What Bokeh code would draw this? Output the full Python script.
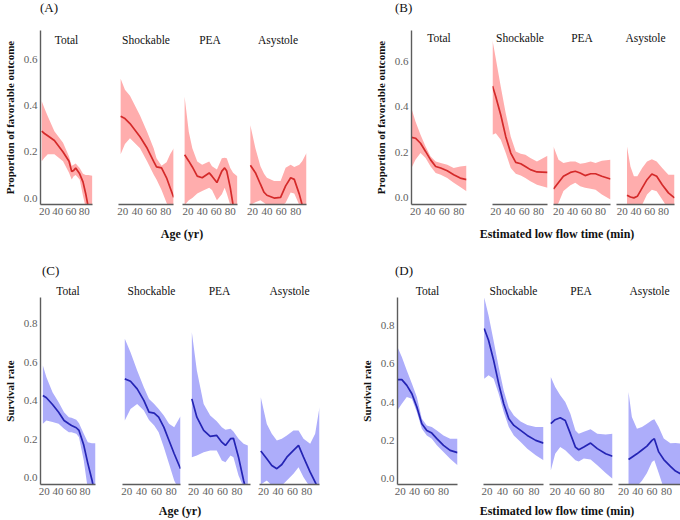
from bokeh.plotting import figure
from bokeh.models import Label, FixedTicker, PrintfTickFormatter, Div, Spacer
from bokeh.layouts import row, column
from bokeh.embed import file_html
from bokeh.resources import INLINE

# ---- fitted curves with 95% bands ----
# (A) favorable outcome by age
a_total_x = [16, 20, 25, 35, 48, 57, 61, 64, 67, 73, 78, 82, 86, 92]
a_total_fit = [0.29, 0.28, 0.27, 0.25, 0.20, 0.16, 0.115, 0.12, 0.13, 0.105, 0.07, 0.02, -0.04, -0.10]
a_total_lo = [0.16, 0.175, 0.19, 0.19, 0.16, 0.11, 0.08, 0.095, 0.10, 0.08, 0.01, -0.04, -0.08, -0.15]
a_total_hi = [0.42, 0.39, 0.355, 0.29, 0.24, 0.18, 0.14, 0.145, 0.15, 0.13, 0.105, 0.10, 0.10, 0.097]

a_shock_x = [17, 23, 30, 44, 54, 63, 67, 74, 81, 86, 91]
a_shock_fit = [0.355, 0.345, 0.323, 0.266, 0.216, 0.159, 0.135, 0.131, 0.088, 0.045, 0.003]
a_shock_lo = [0.19, 0.235, 0.259, 0.216, 0.159, 0.102, 0.081, 0.035, -0.02, -0.06, -0.10]
a_shock_hi = [0.518, 0.47, 0.444, 0.358, 0.287, 0.216, 0.173, 0.14, 0.155, 0.19, 0.216]

a_pea_x = [15, 21, 26, 33, 40, 50, 54, 61, 68, 72, 75, 80, 84, 90]
a_pea_fit = [0.188, 0.16, 0.135, 0.095, 0.088, 0.109, 0.095, 0.067, 0.117, 0.131, 0.117, 0.045, -0.03, -0.15]
a_pea_lo = [-0.03, -0.01, 0.0, 0.02, 0.031, 0.045, 0.035, -0.01, 0.017, 0.045, 0.02, -0.03, -0.06, -0.15]
a_pea_hi = [0.44, 0.287, 0.216, 0.159, 0.145, 0.159, 0.138, 0.124, 0.173, 0.175, 0.173, 0.13, 0.11, 0.095]

a_asys_x = [17, 24, 31, 36, 40, 50, 59, 66, 73, 78, 85, 89, 95]
a_asys_fit = [0.142, 0.11, 0.06, 0.025, 0.012, 0.0, 0.003, 0.053, 0.088, 0.081, 0.017, -0.03, -0.10]
a_asys_lo = [-0.03, -0.018, -0.01, -0.02, -0.03, -0.05, -0.04, -0.02, 0.024, 0.02, -0.03, -0.06, -0.10]
a_asys_hi = [0.316, 0.216, 0.138, 0.105, 0.088, 0.074, 0.074, 0.131, 0.145, 0.135, 0.145, 0.16, 0.195]

# (B) favorable outcome by estimated low flow time
b_total_x = [14.5, 20, 27, 34, 41, 48, 55, 64, 73, 82, 90.7]
b_total_fit = [0.266, 0.262, 0.240, 0.204, 0.167, 0.138, 0.131, 0.119, 0.102, 0.087, 0.080]
b_total_lo = [0.131, 0.167, 0.197, 0.175, 0.138, 0.109, 0.102, 0.087, 0.066, 0.048, 0.029]
b_total_hi = [0.393, 0.335, 0.277, 0.226, 0.182, 0.160, 0.153, 0.146, 0.131, 0.138, 0.141]

b_shock_x = [15.4, 20, 27, 34, 41, 48, 55, 61.5, 68.5, 77.7, 92.5]
b_shock_fit = [0.491, 0.444, 0.364, 0.269, 0.197, 0.156, 0.150, 0.138, 0.124, 0.114, 0.112]
b_shock_lo = [0.277, 0.284, 0.255, 0.197, 0.131, 0.106, 0.098, 0.087, 0.073, 0.058, 0.044]
b_shock_hi = [0.692, 0.612, 0.488, 0.371, 0.269, 0.204, 0.194, 0.189, 0.175, 0.160, 0.185]

b_pea_x = [12.8, 20, 27, 37, 44, 51, 58, 66, 73, 82, 94.4]
b_pea_fit = [0.039, 0.068, 0.095, 0.112, 0.117, 0.109, 0.098, 0.106, 0.106, 0.095, 0.083]
b_pea_lo = [-0.05, -0.022, 0.03, 0.055, 0.066, 0.051, 0.044, 0.04, 0.036, 0.015, -0.007]
b_pea_hi = [0.226, 0.167, 0.153, 0.160, 0.160, 0.150, 0.153, 0.160, 0.153, 0.163, 0.167]

b_asys_x = [27, 32, 37, 42, 49, 56, 63, 70, 78, 87, 95.8]
b_asys_fit = [0.012, 0.004, 0.0, 0.007, 0.044, 0.080, 0.105, 0.095, 0.058, 0.022, 0.0]
b_asys_lo = [-0.03, -0.05, -0.06, -0.05, -0.03, 0.015, 0.036, 0.029, -0.007, -0.05, -0.08]
b_asys_hi = [0.226, 0.138, 0.095, 0.095, 0.131, 0.160, 0.170, 0.160, 0.131, 0.102, 0.102]

# (C) survival by age
c_total_x = [17.8, 23, 32, 41, 49, 56, 60, 67, 71, 78, 84, 90, 95.3]
c_total_fit = [0.428, 0.416, 0.381, 0.341, 0.298, 0.281, 0.272, 0.260, 0.246, 0.17, 0.075, -0.01, -0.1]
c_total_lo = [0.281, 0.298, 0.29, 0.281, 0.255, 0.237, 0.237, 0.229, 0.211, 0.09, -0.06, -0.15, -0.25]
c_total_hi = [0.584, 0.523, 0.445, 0.393, 0.341, 0.315, 0.312, 0.301, 0.284, 0.229, 0.185, 0.18, 0.18]

c_shock_x = [17.3, 25, 34, 43, 50, 57, 63, 70, 77, 84, 92.5]
c_shock_fit = [0.514, 0.502, 0.462, 0.402, 0.341, 0.336, 0.315, 0.263, 0.194, 0.125, 0.047]
c_shock_lo = [0.298, 0.358, 0.384, 0.35, 0.30, 0.272, 0.237, 0.159, 0.073, -0.014, -0.08]
c_shock_hi = [0.722, 0.653, 0.558, 0.471, 0.410, 0.384, 0.358, 0.324, 0.281, 0.263, 0.32]

c_pea_x = [17.7, 24.6, 34, 43, 52, 59, 64, 71, 75, 82, 89, 94.8]
c_pea_fit = [0.410, 0.315, 0.246, 0.215, 0.220, 0.185, 0.168, 0.203, 0.205, 0.107, -0.014, -0.1]
c_pea_lo = [0.107, 0.116, 0.133, 0.142, 0.142, 0.090, 0.081, 0.116, 0.107, 0.012, -0.05, -0.1]
c_pea_hi = [0.757, 0.558, 0.384, 0.324, 0.294, 0.263, 0.25, 0.255, 0.24, 0.203, 0.177, 0.168]

c_asys_x = [16.3, 24.6, 31.5, 38.5, 45.4, 52.3, 61.5, 68.5, 75.4, 84.6, 91.5, 97.5]
c_asys_fit = [0.139, 0.099, 0.064, 0.047, 0.069, 0.107, 0.142, 0.168, 0.107, 0.029, -0.023, -0.07]
c_asys_lo = [-0.035, -0.014, -0.04, -0.05, -0.04, -0.014, 0.021, 0.055, 0.003, -0.05, -0.08, -0.1]
c_asys_hi = [0.419, 0.28, 0.229, 0.194, 0.203, 0.220, 0.246, 0.246, 0.203, 0.177, 0.229, 0.367]

# (D) survival by estimated low flow time
d_total_x = [16.3, 22.3, 29.2, 36.2, 43.1, 50, 56.9, 63.8, 70.8, 80, 89.2, 99.4]
d_total_fit = [0.517, 0.517, 0.487, 0.443, 0.374, 0.287, 0.252, 0.238, 0.209, 0.174, 0.148, 0.136]
d_total_lo = [0.357, 0.391, 0.426, 0.417, 0.348, 0.261, 0.226, 0.209, 0.174, 0.139, 0.104, 0.070]
d_total_hi = [0.687, 0.635, 0.565, 0.496, 0.426, 0.313, 0.278, 0.270, 0.252, 0.226, 0.209, 0.209]

d_shock_x = [16.6, 22.1, 28.6, 35, 41.4, 47.9, 54.3, 62.9, 71.4, 82.1, 92]
d_shock_fit = [0.783, 0.722, 0.617, 0.496, 0.391, 0.313, 0.278, 0.252, 0.226, 0.2, 0.186]
d_shock_lo = [0.522, 0.539, 0.522, 0.443, 0.348, 0.270, 0.226, 0.191, 0.157, 0.122, 0.096]
d_shock_hi = [0.945, 0.853, 0.718, 0.583, 0.46, 0.37, 0.33, 0.298, 0.28, 0.27, 0.27]

d_pea_x = [14, 20, 26.9, 33.8, 40.8, 47.7, 52.3, 59.2, 68.5, 77.7, 89.2, 98.5]
d_pea_fit = [0.287, 0.308, 0.318, 0.304, 0.235, 0.165, 0.151, 0.165, 0.186, 0.157, 0.130, 0.117]
d_pea_lo = [0.043, 0.130, 0.165, 0.148, 0.122, 0.096, 0.09, 0.105, 0.1, 0.07, 0.03, 0.0]
d_pea_hi = [0.530, 0.478, 0.435, 0.40, 0.339, 0.252, 0.235, 0.245, 0.258, 0.235, 0.231, 0.235]

d_asys_x = [27, 31.7, 38.8, 45.8, 52.8, 59.8, 63.1, 69.2, 76.3, 85.6, 92.7, 99.7]
d_asys_fit = [0.10, 0.112, 0.13, 0.15, 0.17, 0.20, 0.209, 0.14, 0.10, 0.065, 0.04, 0.026]
d_asys_lo = [-0.05, -0.05, -0.04, -0.01, 0.03, 0.087, 0.096, 0.03, -0.05, -0.08, -0.1, -0.12]
d_asys_hi = [0.452, 0.322, 0.261, 0.27, 0.287, 0.305, 0.31, 0.27, 0.21, 0.185, 0.186, 0.183]

groups = ["Total", "Shockable", "PEA", "Asystole"]
x_ticks = [20, 40, 60, 80]

FONT = "Liberation Serif"
RED = ("#d42a2a", "#ffadad")
BLUE = ("#2424b4", "#adadfa")

# strip_y: strip text sits inside the frame (A, B); None: above it as a title (C, D)
panels = [
    dict(series=[(a_total_x, a_total_fit, a_total_lo, a_total_hi),
                 (a_shock_x, a_shock_fit, a_shock_lo, a_shock_hi),
                 (a_pea_x, a_pea_fit, a_pea_lo, a_pea_hi),
                 (a_asys_x, a_asys_fit, a_asys_lo, a_asys_hi)],
         colors=RED, y_range=(-0.028, 0.727),
         y_ticks=[0, 0.2, 0.4, 0.6], y_label="Proportion of favorable outcome",
         strip_y=0.685, frame_tb=(27, 204),
         frames=[(35, 92), (118, 173), (182, 237), (249, 306)],
         x_ranges=[(14.1, 92.3), (14.0, 90.7), (12.0, 90.3), (15.8, 95.0)]),
    dict(series=[(b_total_x, b_total_fit, b_total_lo, b_total_hi),
                 (b_shock_x, b_shock_fit, b_shock_lo, b_shock_hi),
                 (b_pea_x, b_pea_fit, b_pea_lo, b_pea_hi),
                 (b_asys_x, b_asys_fit, b_asys_lo, b_asys_hi)],
         colors=RED, y_range=(-0.029, 0.735),
         y_ticks=[0, 0.2, 0.4, 0.6], y_label="Proportion of favorable outcome",
         strip_y=0.702, frame_tb=(30, 205),
         frames=[(411, 466), (492, 547), (553, 610), (616, 674)],
         x_ranges=[(14.5, 90.7), (15.4, 92.5), (12.8, 94.4), (11.8, 95.8)]),
    dict(series=[(c_total_x, c_total_fit, c_total_lo, c_total_hi),
                 (c_shock_x, c_shock_fit, c_shock_lo, c_shock_hi),
                 (c_pea_x, c_pea_fit, c_pea_lo, c_pea_hi),
                 (c_asys_x, c_asys_fit, c_asys_lo, c_asys_hi)],
         colors=BLUE, y_range=(-0.035, 0.937),
         y_ticks=[0, 0.2, 0.4, 0.6, 0.8], y_label="Survival rate",
         strip_y=None, frame_tb=(297, 484),
         frames=[(33, 95), (122, 180), (188, 250), (259, 319)],
         x_ranges=[(14.3, 95.3), (14.2, 92.5), (13.1, 98.5), (14.5, 97.5)]),
    dict(series=[(d_total_x, d_total_fit, d_total_lo, d_total_hi),
                 (d_shock_x, d_shock_fit, d_shock_lo, d_shock_hi),
                 (d_pea_x, d_pea_fit, d_pea_lo, d_pea_hi),
                 (d_asys_x, d_asys_fit, d_asys_lo, d_asys_hi)],
         colors=BLUE, y_range=(-0.030, 0.945),
         y_ticks=[0, 0.2, 0.4, 0.6, 0.8], y_label="Survival rate",
         strip_y=None, frame_tb=(297, 484),
         frames=[(397, 457), (483, 543), (549, 612), (618, 680)],
         x_ranges=[(16.3, 99.4), (15.7, 92.0), (12.2, 98.5), (13.0, 99.7)]),
]


def style_axis(ax):
    ax.axis_line_color = "#5c5c5c"
    ax.axis_line_width = 1.4
    ax.major_tick_line_color = None
    ax.minor_tick_line_color = None
    ax.major_tick_out = 0
    ax.major_tick_in = 0
    ax.major_label_text_font = FONT
    ax.major_label_text_font_size = "11px"
    ax.major_label_text_color = "#5e5e5e"
    ax.major_label_standoff = 3


def subplot(panel, k, left, right, top, bottom):
    fl, fr = panel["frames"][k]
    ft, fb = panel["frame_tb"]
    line_c, band_c = panel["colors"]
    x, fit, lo, hi = panel["series"][k]
    x0, x1 = panel["x_ranges"][k]
    p = figure(width=right - left, height=bottom - top,
               x_range=(x0, x1), y_range=panel["y_range"],
               y_axis_location="left" if k == 0 else None,
               min_border_left=fl - left, min_border_right=right - fr,
               min_border_top=ft - top, min_border_bottom=bottom - fb,
               output_backend="svg", toolbar_location=None)
    p.outline_line_color = None
    p.grid.visible = False
    p.varea(x=x, y1=lo, y2=hi, fill_color=band_c, fill_alpha=1.0)
    p.line(x=x, y=fit, line_color=line_c, line_width=1.7)
    xa = p.xaxis[0]
    xa.ticker = FixedTicker(ticks=x_ticks)
    style_axis(xa)
    if k == 0:
        ya = p.yaxis[0]
        ya.ticker = FixedTicker(ticks=panel["y_ticks"])
        ya.formatter = PrintfTickFormatter(format="%.1f")
        style_axis(ya)
        ya.axis_label = panel["y_label"]
        ya.axis_label_text_font = FONT
        ya.axis_label_text_font_size = "11px"
        ya.axis_label_text_font_style = "bold"
        ya.axis_label_text_color = "#111111"
        ya.axis_label_standoff = 5
    if panel["strip_y"] is not None:
        p.add_layout(Label(x=(x0 + x1) / 2, y=panel["strip_y"], text=groups[k],
                           text_align="center", text_baseline="middle",
                           text_font=FONT, text_font_size="11.5px", text_color="#111111"))
    else:
        p.title.text = groups[k]
        p.title.align = "center"
        p.title.standoff = 1
        p.title.text_font = FONT
        p.title.text_font_size = "11.5px"
        p.title.text_font_style = "normal"
        p.title.text_color = "#111111"
    return p


def fig_row(pair, bounds, top, bottom):
    figs = []
    for j, panel in enumerate(pair):
        for k in range(4):
            i = j * 4 + k
            figs.append(subplot(panel, k, bounds[i], bounds[i + 1], top, bottom))
    return row(*figs)


def text_div(text, x0, x1, y0, y1, size, bold=False, align="left", lh=None):
    return Div(text=text, width=x1 - x0, height=y1 - y0, margin=0,
               styles={"font-family": FONT, "font-size": size,
                       "font-weight": "bold" if bold else "normal",
                       "text-align": align, "color": "#111111",
                       "line-height": "%dpx" % (lh if lh else y1 - y0),
                       "white-space": "nowrap"})


def gap(x0, x1, y0, y1):
    return Spacer(width=x1 - x0, height=y1 - y0, margin=0)


r1 = row(gap(0, 40, 0, 16), text_div("(A)", 40, 80, 0, 16, "13px"),
         gap(80, 395, 0, 16), text_div("(B)", 395, 440, 0, 16, "13px"))
r2 = fig_row(panels[:2], [0, 105, 177, 243, 320, 479, 550, 613, 680], 16, 225)
r3 = row(text_div("Age (yr)", 0, 364, 225, 262, "12px", True, "center", 18),
         gap(364, 434, 225, 262),
         text_div("Estimated low flow time (min)", 434, 680, 225, 262, "12px", True, "center", 18))
r4 = row(gap(0, 42, 262, 280), text_div("(C)", 42, 82, 262, 280, "13px"),
         gap(82, 395, 262, 280), text_div("(D)", 395, 440, 262, 280, "13px"))
r5 = fig_row(panels[2:], [0, 108, 184, 254, 330, 470, 546, 615, 680], 280, 503)
r6 = row(text_div("Age (yr)", 0, 360, 503, 520, "12px", True, "center"),
         gap(360, 434, 503, 520),
         text_div("Estimated low flow time (min)", 434, 680, 503, 520, "12px", True, "center"))

page = column(r1, r2, r3, r4, r5, r6)

open("out.html", "w").write(file_html(page, INLINE))
